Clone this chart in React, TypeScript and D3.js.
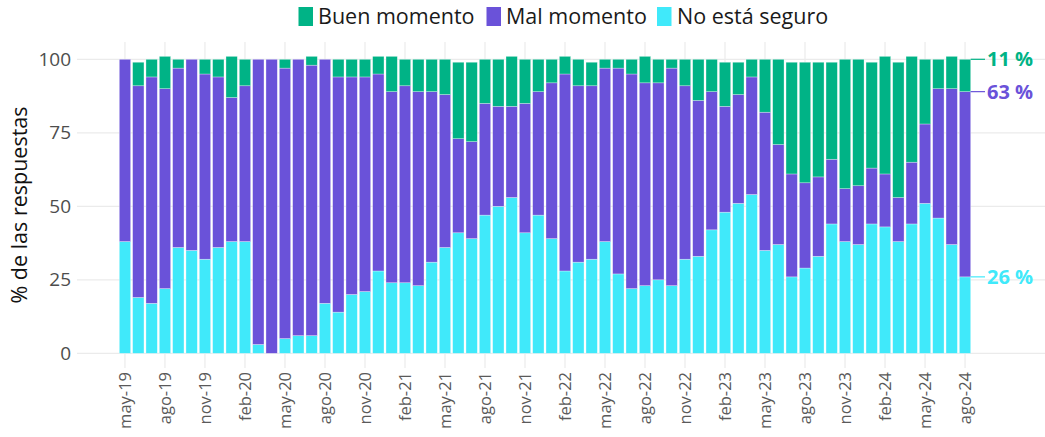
import React from "react";
import * as d3 from "d3";

// Meses (may-19 a ago-24)
const months = [
  "may-19", "jun-19", "jul-19", "ago-19", "sep-19", "oct-19", "nov-19", "dic-19",
  "ene-20", "feb-20", "mar-20", "abr-20", "may-20", "jun-20", "jul-20", "ago-20", "sep-20", "oct-20", "nov-20", "dic-20",
  "ene-21", "feb-21", "mar-21", "abr-21", "may-21", "jun-21", "jul-21", "ago-21", "sep-21", "oct-21", "nov-21", "dic-21",
  "ene-22", "feb-22", "mar-22", "abr-22", "may-22", "jun-22", "jul-22", "ago-22", "sep-22", "oct-22", "nov-22", "dic-22",
  "ene-23", "feb-23", "mar-23", "abr-23", "may-23", "jun-23", "jul-23", "ago-23", "sep-23", "oct-23", "nov-23", "dic-23",
  "ene-24", "feb-24", "mar-24", "abr-24", "may-24", "jun-24", "jul-24", "ago-24",
];

const noSeguro = [
  38, 19, 17, 22, 36, 35, 32, 36, 38, 38, 3, 0, 5, 6, 6, 17, 14, 20, 21, 28,
  24, 24, 23, 31, 36, 41, 39, 47, 50, 53, 41, 47, 39, 28, 31, 32, 38, 27, 22, 23,
  25, 23, 32, 33, 42, 48, 51, 54, 35, 37, 26, 29, 33, 44, 38, 37, 44, 43, 38, 44,
  51, 46, 37, 26,
];

const malMomento = [
  62, 72, 77, 68, 61, 65, 63, 58, 49, 53, 97, 100, 92, 94, 92, 83, 80, 74, 73, 67,
  65, 67, 66, 58, 52, 32, 33, 38, 34, 31, 44, 42, 53, 67, 60, 59, 59, 70, 73, 69,
  67, 74, 59, 53, 47, 36, 37, 40, 47, 34, 35, 29, 27, 22, 18, 20, 19, 18, 15, 21,
  27, 44, 53, 63,
];

const buenMomento = [
  0, 8, 6, 11, 3, 0, 5, 6, 14, 9, 0, 0, 3, 0, 3, 0, 6, 6, 6, 6,
  12, 9, 11, 11, 12, 26, 27, 15, 16, 17, 15, 11, 8, 6, 9, 8, 3, 3, 5, 9,
  8, 3, 9, 14, 11, 15, 11, 6, 18, 29, 38, 41, 39, 33, 44, 43, 36, 40, 46, 36,
  22, 10, 11, 11,
];

const seriesNames = ["No está seguro", "Mal momento", "Buen momento"];
const yTicks = [0, 25, 50, 75, 100];

const colors: Record<string, string> = {
  "Buen momento": "#00b386",
  "Mal momento": "#6a52d9",
  "No está seguro": "#40e9fa",
};

const W = 1045;
const H = 437;
const FONT = "'Open Sans', 'Noto Sans', sans-serif";

const App = () => {
  const x = d3.scaleBand<string>()
    .domain(months)
    .range([118.3, 971.7])
    .paddingInner(0.15)
    .paddingOuter(0.075);

  const y = d3.scaleLinear().domain([0, 100]).range([353.3, 59.3]);

  const rows = months.map((m, i) => ({
    month: m,
    "No está seguro": noSeguro[i],
    "Mal momento": malMomento[i],
    "Buen momento": buenMomento[i],
  }));

  const stacked = d3.stack<any>().keys(seriesNames)(rows);

  const xTicks = months.filter((_, i) => i % 3 === 0);
  const last = rows.length - 1;
  const lastX = (x(months[last]) as number) + x.bandwidth();

  const legendPos = [
    { name: "Buen momento", sx: 298.5, tx: 318 },
    { name: "Mal momento", sx: 486.5, tx: 506 },
    { name: "No está seguro", sx: 657, tx: 677 },
  ];

  return (
    <div style={{ position: "absolute", left: 0, top: 0 }}>
      <svg width={W} height={H} style={{ display: "block", background: "#fff" }} fontFamily={FONT}>
        {/* grid */}
        {yTicks.map((t) => (
          <line key={"h" + t} x1={77} x2={W} y1={y(t)} y2={y(t)} stroke="#ebebeb" strokeWidth={1.2} />
        ))}
        {xTicks.map((m) => {
          const cx = (x(m) as number) + x.bandwidth() / 2;
          return <line key={"v" + m} x1={cx} x2={cx} y1={42} y2={368} stroke="#ebebeb" strokeWidth={1.2} />;
        })}

        {/* bars */}
        {stacked.map((s) => (
          <g key={s.key} fill={colors[s.key]}>
            {s.map((d, i) => (
              <rect
                key={i}
                x={x(months[i])}
                width={x.bandwidth()}
                y={y(d[1])}
                height={Math.max(0, y(d[0]) - y(d[1]))}
                stroke="#ffffff"
                strokeOpacity={0.5}
                strokeWidth={0.6}
              />
            ))}
          </g>
        ))}

        {/* end labels */}
        {stacked.map((s) => {
          const top = s[last][1];
          const val = rows[last][s.key as keyof typeof rows[0]];
          return (
            <g key={"lab" + s.key}>
              <line x1={lastX} x2={985} y1={y(top)} y2={y(top)} stroke={colors[s.key]} strokeWidth={1.2} />
              <text x={987} y={y(top)} dy="0.35em" fill={colors[s.key]} fontSize={20} fontWeight={700}>
                {val} %
              </text>
            </g>
          );
        })}

        {/* y axis */}
        {yTicks.map((t) => (
          <text key={"yl" + t} x={71} y={y(t)} dy="0.35em" textAnchor="end" fontSize={19} fill="#4d4d4d">
            {t}
          </text>
        ))}
        <text transform="translate(27,205) rotate(-90)" textAnchor="middle" fontSize={21.5} fill="#111">
          % de las respuestas
        </text>

        {/* x axis labels */}
        {xTicks.map((m) => {
          const cx = (x(m) as number) + x.bandwidth() / 2;
          return (
            <text
              key={"xl" + m}
              transform={`translate(${cx + 5.8},372) rotate(-90)`}
              textAnchor="end"
              fontSize={16.5}
              fill="#5a5a5a"
            >
              {m}
            </text>
          );
        })}

        {/* legend */}
        {legendPos.map((l) => (
          <g key={"lg" + l.name}>
            <rect x={l.sx} y={7} width={14.5} height={19} fill={colors[l.name]} />
            <text x={l.tx} y={24} fontSize={21.5} fill="#1a1a1a">
              {l.name}
            </text>
          </g>
        ))}
      </svg>
    </div>
  );
};

export default App;
